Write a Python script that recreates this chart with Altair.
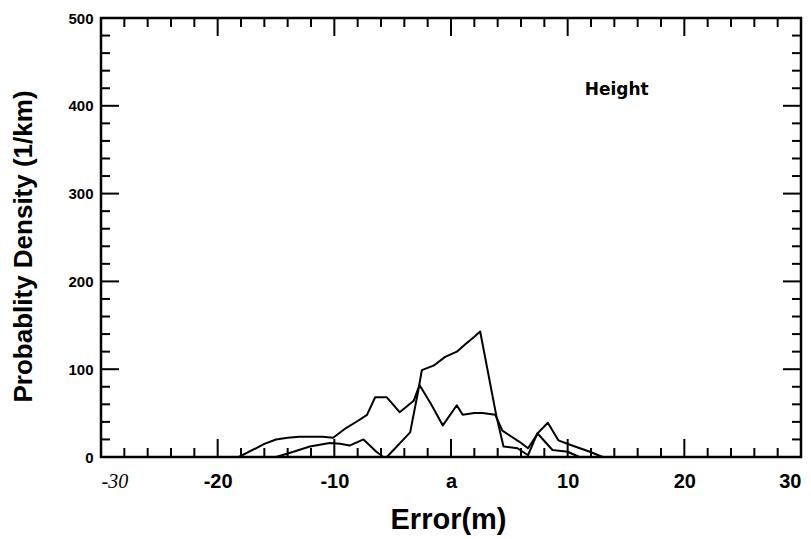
import altair as alt
import pandas as pd

# ---- data ----
a_x = [-18.2, -17.0, -16.0, -15.0, -14.0, -13.0, -12.0, -11.0, -10.1, -9.0, -8.0, -7.2, -6.5, -5.5, -4.4,
       -3.2, -2.7, -1.7, -0.7, 0.5, 1.0, 2.0, 2.7, 3.8, 4.4, 5.9, 6.6, 7.5, 8.3, 9.2, 10.2, 11.9, 13.0, 30.0]
a_y = [0, 8, 15, 20, 22, 23, 23, 23, 22, 33, 41, 48, 68, 68, 51,
       64, 82, 60, 36, 59, 48, 50, 50, 48, 30, 17, 10, 28, 39, 19, 14, 6, 0, 0]

b_x = [-30.0, -15.0, -13.5, -12.1, -10.4, -9.5, -8.7, -7.5, -6.4, -5.8, -5.5, -3.5, -2.8, -2.5, -1.5, -0.5,
       0.5, 1.2, 2.0, 2.5, 3.9, 4.5, 5.7, 6.6, 7.4, 8.7, 10.0, 11.0]
b_y = [0, 0, 6, 12, 16, 15, 13, 20, 6, 0, 0, 28, 76, 99, 104, 114,
       120, 128, 137, 143, 46, 12, 10, 2, 27, 8, 6, 0]

x_label_values = [-30, -20, -10, 0, 10, 20, 30]
y_label_values = [0, 100, 200, 300, 400, 500]
x_minor = [-28, -26, -24, -22, -18, -16, -14, -12, -8, -6, -4, -2, 2, 4, 6, 8, 12, 14, 16, 18, 22, 24, 26, 28]
x_major = [-20, -10, 0, 10, 20]
y_minor = [20, 40, 60, 80, 120, 140, 160, 180, 220, 240, 260, 280, 320, 340, 360, 380, 420, 440, 460, 480]
y_major = [100, 200, 300, 400]

note_text = ["Height"]
note_x = [14.2]
note_y = [418]

x_title = "Error(m)"
y_title = "Probablity Density (1/km)"

W, H = 700, 439
X_DOMAIN = [-30, 30]
Y_DOMAIN = [0, 500]
MINOR_PX, MAJOR_PX = 9, 18

xs = alt.Scale(domain=X_DOMAIN, nice=False, zero=False)
ys = alt.Scale(domain=Y_DOMAIN, nice=False)

# data units per pixel, used to turn the inward tick lengths into segments
x_per_px = (X_DOMAIN[1] - X_DOMAIN[0]) / W
y_per_px = (Y_DOMAIN[1] - Y_DOMAIN[0]) / H

rows = []
for name, xv, yv in [("A", a_x, a_y), ("B", b_x, b_y)]:
    for i, (px, py) in enumerate(zip(xv, yv)):
        rows.append({"series": name, "x": px, "y": py, "i": i})

# inward tick marks on all four edges, as two-point segments
for vals, L in [(x_minor, MINOR_PX), (x_major, MAJOR_PX)]:
    for v in vals:
        dy = L * y_per_px
        rows += [{"series": f"tb{v}_{L}", "x": v, "y": Y_DOMAIN[0], "i": 0},
                 {"series": f"tb{v}_{L}", "x": v, "y": Y_DOMAIN[0] + dy, "i": 1},
                 {"series": f"tt{v}_{L}", "x": v, "y": Y_DOMAIN[1], "i": 0},
                 {"series": f"tt{v}_{L}", "x": v, "y": Y_DOMAIN[1] - dy, "i": 1}]
for vals, L in [(y_minor, MINOR_PX), (y_major, MAJOR_PX)]:
    for v in vals:
        dx = L * x_per_px
        rows += [{"series": f"tl{v}_{L}", "x": X_DOMAIN[0], "y": v, "i": 0},
                 {"series": f"tl{v}_{L}", "x": X_DOMAIN[0] + dx, "y": v, "i": 1},
                 {"series": f"tr{v}_{L}", "x": X_DOMAIN[1], "y": v, "i": 0},
                 {"series": f"tr{v}_{L}", "x": X_DOMAIN[1] - dx, "y": v, "i": 1}]

df = pd.DataFrame(rows)
note_df = pd.DataFrame({"t": note_text, "x": note_x, "y": note_y})

LABEL_FONT = "Liberation Sans"

x_label_axis = alt.Axis(
    orient="bottom", values=x_label_values,
    labelExpr="datum.value == 0 ? 'a' : '' + datum.value",
    ticks=False, tickSize=0, domain=False, grid=False,
    labelPadding=14, labelFontSize=20, labelColor="black",
    labelFont={"condition": {"test": "datum.value == -30", "value": "Liberation Serif"}, "value": LABEL_FONT},
    labelFontStyle={"condition": {"test": "datum.value == -30", "value": "italic"}, "value": "normal"},
    labelFontWeight={"condition": {"test": "datum.value == -30", "value": "normal"}, "value": "bold"},
    title=x_title, titleFont="Liberation Sans", titleFontSize=29, titleFontWeight="bold",
    titleColor="black", titleBaseline="alphabetic", titleY=71, titleX=347, titleAlign="center",
)
y_label_axis = alt.Axis(
    orient="left", values=y_label_values,
    ticks=False, tickSize=0, domain=False, grid=False,
    labelPadding=8, labelFontSize=15, labelFont=LABEL_FONT, labelFontWeight="bold", labelColor="black",
    title=y_title, titleFont="Liberation Sans", titleFontSize=26, titleFontWeight="bold",
    titleColor="black", titleAngle=270, titleBaseline="middle", titleAlign="center",
    titleX=-78, titleY=228,
)

lines = alt.Chart(df).mark_line(color="black", strokeWidth=2, strokeJoin="round").encode(
    x=alt.X("x:Q", scale=xs, axis=x_label_axis),
    y=alt.Y("y:Q", scale=ys, axis=y_label_axis),
    detail="series:N",
    order="i:Q",
)

note = alt.Chart(note_df).mark_text(
    font="DejaVu Sans", fontSize=17, fontWeight="bold", color="black", align="center", baseline="middle"
).encode(
    x=alt.X("x:Q", scale=xs),
    y=alt.Y("y:Q", scale=ys),
    text="t:N",
)

chart = alt.layer(lines, note).properties(
    width=W, height=H,
    autosize=alt.AutoSizeParams(type="none"),
    padding={"left": 101, "top": 18, "right": 10, "bottom": 82},
    background="white",
).configure_view(
    stroke="black", strokeWidth=2.5
)

chart.save("out.html", embed_options={"renderer": "svg", "actions": False})
